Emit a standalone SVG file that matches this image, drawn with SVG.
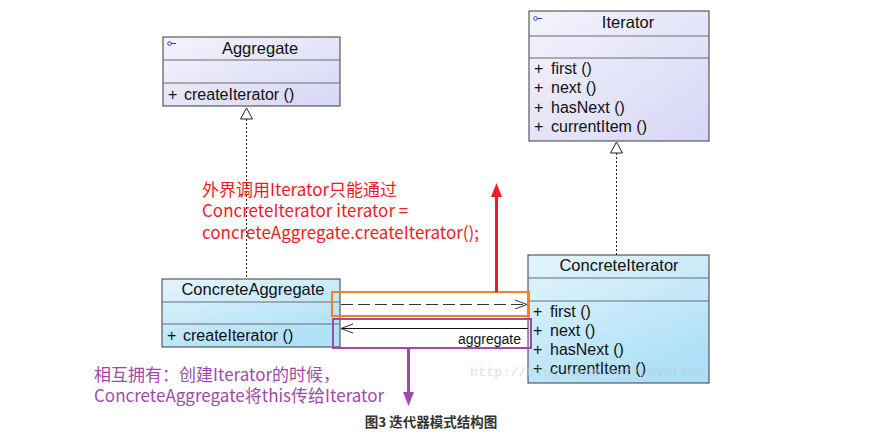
<svg xmlns="http://www.w3.org/2000/svg" width="876" height="448" viewBox="0 0 876 448">
<defs>
<linearGradient id="gA" x1="0" y1="0" x2="1" y2="1">
<stop offset="0" stop-color="#f4f4fd"/>
<stop offset="1" stop-color="#d6d6f6"/>
</linearGradient>
<linearGradient id="gC" x1="0" y1="0" x2="0.6" y2="1">
<stop offset="0" stop-color="#e4f5fd"/>
<stop offset="1" stop-color="#aee0f7"/>
</linearGradient>
</defs>
<style>
.box{stroke:#3a3a3a;stroke-width:1}
.abs{fill:url(#gA)}
.con{fill:url(#gC)}
.sep{stroke:#6a6a6a;stroke-width:1}
.t{font-family:"Liberation Sans",Arial,sans-serif;font-size:16px;fill:#111}
.tt{font-family:"Liberation Sans",Arial,sans-serif;font-size:16.5px;fill:#111;text-anchor:middle}
.lbl{font-family:"Liberation Sans",Arial,sans-serif;font-size:14px;fill:#111;text-anchor:end}
.dot{stroke:#222;stroke-width:1;stroke-dasharray:2 2;fill:none}
.head{fill:#fff;stroke:#222;stroke-width:1}
.red{font-family:"Noto Sans CJK SC","Microsoft YaHei",sans-serif;font-size:17px;fill:#ee1c24}
.pur{font-family:"Noto Sans CJK SC","Microsoft YaHei",sans-serif;font-size:17px;fill:#a04aa8}
.icon{stroke:#2244cc;stroke-width:1;fill:none}
</style>
<rect width="876" height="448" fill="#fff"/>

<g id="Aggregate">
<rect class="box abs" x="163" y="37" width="177" height="69"/>
<line class="sep" x1="163" y1="60" x2="340" y2="60"/>
<line class="sep" x1="163" y1="83" x2="340" y2="83"/>
<circle class="icon" cx="169.5" cy="43.5" r="1.8"/>
<line class="icon" x1="171" y1="43.5" x2="176" y2="43.5"/>
<text class="tt" x="260" y="54">Aggregate</text>
<text class="t" x="168" y="100">+</text>
<text class="t" x="184" y="100">createIterator ()</text>
</g>

<g id="Iterator">
<rect class="box abs" x="529" y="11" width="180" height="130"/>
<line class="sep" x1="529" y1="36" x2="709" y2="36"/>
<line class="sep" x1="529" y1="58" x2="709" y2="58"/>
<circle class="icon" cx="535.5" cy="18.5" r="1.8"/>
<line class="icon" x1="537" y1="18.5" x2="542" y2="18.5"/>
<text class="tt" x="628" y="28">Iterator</text>
<text class="t" x="534" y="74">+</text><text class="t" x="551" y="74">first ()</text>
<text class="t" x="534" y="93">+</text><text class="t" x="551" y="93">next ()</text>
<text class="t" x="534" y="113">+</text><text class="t" x="551" y="113">hasNext ()</text>
<text class="t" x="534" y="132">+</text><text class="t" x="551" y="132">currentItem ()</text>
</g>

<g id="ConcreteAggregate">
<rect class="box con" x="162" y="279" width="178" height="68"/>
<line class="sep" x1="162" y1="302" x2="340" y2="302"/>
<line class="sep" x1="162" y1="324" x2="340" y2="324"/>
<text class="tt" x="253" y="295">ConcreteAggregate</text>
<text class="t" x="167" y="341">+</text>
<text class="t" x="183" y="341">createIterator ()</text>
</g>

<g id="ConcreteIterator">
<rect class="box con" x="528" y="255" width="181" height="128"/>
<line class="sep" x1="528" y1="278" x2="709" y2="278"/>
<line class="sep" x1="528" y1="301" x2="709" y2="301"/>
<text class="tt" x="619" y="271">ConcreteIterator</text>
<text class="t" x="533" y="317">+</text><text class="t" x="550" y="317">first ()</text>
<text class="t" x="533" y="336">+</text><text class="t" x="550" y="336">next ()</text>
<text class="t" x="533" y="355">+</text><text class="t" x="550" y="355">hasNext ()</text>
<text class="t" x="533" y="374">+</text><text class="t" x="550" y="374">currentItem ()</text>
</g>

<g id="connectors">
<line class="dot" x1="246.5" y1="119" x2="246.5" y2="279"/>
<polygon class="head" points="246.5,108 240.5,119 252.5,119"/>
<line class="dot" x1="616.5" y1="153" x2="616.5" y2="255"/>
<polygon class="head" points="616.5,142 610.5,153 622.5,153"/>
<line x1="341" y1="304.5" x2="527" y2="304.5" stroke="#333" stroke-width="1" stroke-dasharray="12 5"/>
<polyline points="515,300 527,304.5 515,309" fill="none" stroke="#333" stroke-width="1"/>
<line x1="341" y1="328.5" x2="528" y2="328.5" stroke="#111" stroke-width="1"/>
<polyline points="353,324 341,328.5 353,333" fill="none" stroke="#333" stroke-width="1"/>
<text class="lbl" x="521" y="344">aggregate</text>
</g>

<g id="highlights">
<rect x="332" y="292" width="197" height="24" fill="none" stroke="#f58220" stroke-width="2"/>
<rect x="333" y="319" width="198" height="29" fill="none" stroke="#a04aa8" stroke-width="2"/>
<line x1="496.5" y1="292" x2="496.5" y2="196" stroke="#ee1c24" stroke-width="3"/>
<polygon points="496.5,183 491,197 502,197" fill="#ee1c24"/>
<line x1="408.5" y1="348" x2="408.5" y2="393" stroke="#a04aa8" stroke-width="3"/>
<polygon points="408.5,406 403,392 414,392" fill="#a04aa8"/>
</g>

<g id="notes">
<text class="red" x="202" y="196">外界调用Iterator只能通过</text>
<text class="red" x="202" y="217">ConcreteIterator iterator =</text>
<text class="red" x="202" y="239">concreteAggregate.createIterator();</text>
<text class="pur" x="94" y="381">相互拥有：创建Iterator的时候，</text>
<text class="pur" x="94" y="402">ConcreteAggregate将this传给Iterator</text>
<text x="470" y="376" font-family="'Liberation Mono','DejaVu Sans Mono',monospace" font-size="13.5" fill="#c8c8c8" opacity="0.55">http://blog.csdn.net/LoveLion</text>
<text x="431" y="427" text-anchor="middle" font-family="'Noto Sans CJK SC','Microsoft YaHei',sans-serif" font-size="13.5" font-weight="bold" fill="#333">图3 迭代器模式结构图</text>
</g>
</svg>
